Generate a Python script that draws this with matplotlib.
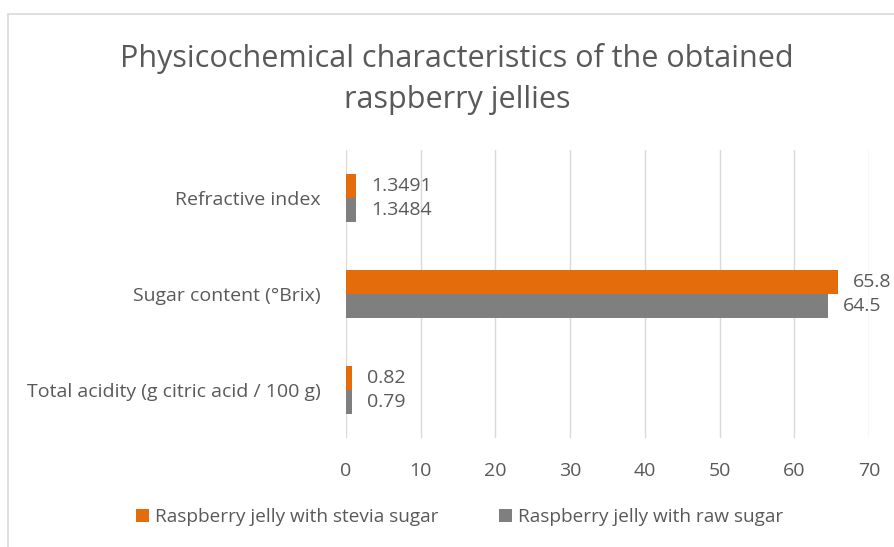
import matplotlib
matplotlib.use("Agg")
import matplotlib.pyplot as plt
from matplotlib.patches import Rectangle
import numpy as np

categories = ["Total acidity (g citric acid / 100 g)", "Sugar content (°Brix)", "Refractive index"]
stevia = [0.82, 65.8, 1.3491]
raw = [0.79, 64.5, 1.3484]
series_names = ["Raspberry jelly with stevia sugar", "Raspberry jelly with raw sugar"]
xticks = [0, 10, 20, 30, 40, 50, 60, 70]
title = "Physicochemical characteristics of the obtained\nraspberry jellies"

ORANGE = "#E46C0A"
GRAY = "#7F7F7F"
TXT = "#595959"
GRID = "#D9D9D9"

plt.rcParams['font.family'] = ['Open Sans', 'DejaVu Sans']

fig = plt.figure(figsize=(8.94, 5.47), dpi=100)
ax = fig.add_axes([346/894, 1-438/547, (869-346)/894, (438-150)/547])

y = np.arange(len(categories))
h = 0.255
b1 = ax.barh(y + h/2, stevia, height=h, color=ORANGE, label=series_names[0], zorder=3)
b2 = ax.barh(y - h/2, raw, height=h, color=GRAY, label=series_names[1], zorder=3)
for bars, vals in ((b1, stevia), (b2, raw)):
    ax.bar_label(bars, labels=[f"{v:g}" for v in vals], padding=11, color=TXT, fontsize=14)

ax.set_xlim(0, 70)
ax.set_ylim(-0.5, 2.5)
ax.set_xticks(xticks)
ax.set_yticks(y)
ax.set_yticklabels(categories)
ax.tick_params(axis='both', length=0, colors=TXT, labelsize=14)
ax.tick_params(axis='y', pad=18)
ax.tick_params(axis='x', pad=17)
for s in ax.spines.values():
    s.set_visible(False)
ax.grid(axis='x', color=GRID, linewidth=1, zorder=0)
ax.set_axisbelow(True)

fig.text(0.511, 1-79/547, title, ha='center', va='center', fontsize=22, color=TXT, linespacing=1.45)

fig.legend(handles=[b1, b2], loc='center', bbox_to_anchor=(0.514, 1-517/547), ncol=2,
           frameon=False, handlelength=0.7, handleheight=0.7, handletextpad=0.3,
           columnspacing=3.2, fontsize=13.7, labelcolor=TXT)

fig.patches.append(Rectangle((8/894, -0.05), 1.1, 1-14/547+0.05, transform=fig.transFigure,
                             fill=False, edgecolor=GRID, linewidth=1.2))

fig.savefig("out.png", dpi=100)
